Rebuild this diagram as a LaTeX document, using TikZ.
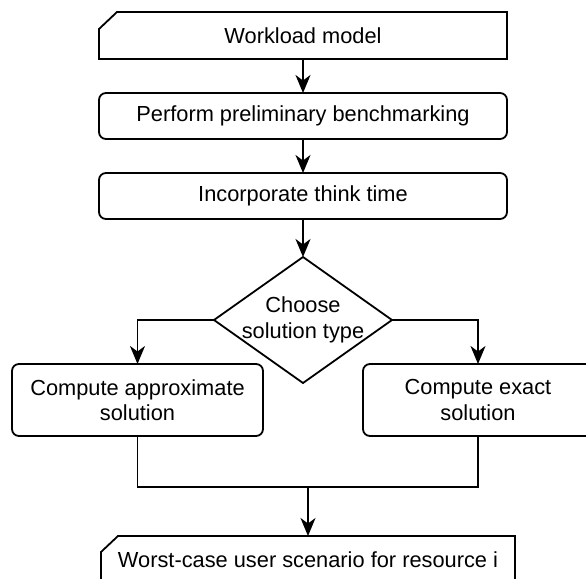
\documentclass[tikz,border=0pt]{standalone}
\usepackage{fontspec}
\setmainfont{Liberation Sans}
\usetikzlibrary{arrows.meta}
\begin{document}
\begin{tikzpicture}[x=1pt,y=-1pt,
  every node/.style={inner sep=0pt,outer sep=0pt,align=center,
    font=\fontsize{21.8pt}{25.5pt}\selectfont},
  lw/.style={line width=1.8pt},
  rbox/.style={lw,draw,rounded corners=7pt},
  conn/.style={lw,-{Stealth[length=18pt,width=15pt,inset=5.5pt]}},
  line/.style={lw}
]
\clip (0,0) rectangle (586,578);
\useasboundingbox (0,0) rectangle (586,578);

% top cut-corner shape
\node[minimum width=408pt,minimum height=47pt] (wm) at (303,35.5) {Workload model};
\draw[line,line join=miter] (wm.south west) -- (wm.south east) -- (wm.north east)
  -- ([xshift=18pt]wm.north west) -- ([yshift=-17pt]wm.north west) -- cycle;

\node[rbox,minimum width=408pt,minimum height=46pt] (pb) at (303,116) {Perform preliminary benchmarking};
\node[rbox,minimum width=408pt,minimum height=46pt] (it) at (303,196) {Incorporate think time};

% diamond
\node[minimum width=178pt,minimum height=126pt] (ch) at (303,320) {Choose\\solution type};
\draw[line] (ch.north) -- (ch.east) -- (ch.south) -- (ch.west) -- cycle;

\node[rbox,minimum width=251pt,minimum height=72pt] (ap) at (137.5,400) {Compute approximate\\solution};
\node[rbox,minimum width=230pt,minimum height=72pt] (ex) at (478,400) {Compute exact\\solution};

% bottom cut-corner shape
\node[minimum width=414pt,minimum height=47pt] (wc) at (308,559.5) {Worst-case user scenario for resource i};
\draw[line,line join=miter] (wc.south west) -- (wc.south east) -- (wc.north east)
  -- ([xshift=17pt]wc.north west) -- ([yshift=-16pt]wc.north west) -- cycle;

\coordinate (m) at (308,487);

\draw[conn] (wm.south) -- (pb.north);
\draw[conn] (pb.south) -- (it.north);
\draw[conn] (it.south) -- (ch.north);
\draw[conn] (ch.west) -| (ap.north);
\draw[conn] (ch.east) -| (ex.north);
\draw[line] (ap.south) -- (ap.south |- m) -- (ex.south |- m) -- (ex.south);
\draw[conn] (m) -- (wc.north);
\end{tikzpicture}
\end{document}
